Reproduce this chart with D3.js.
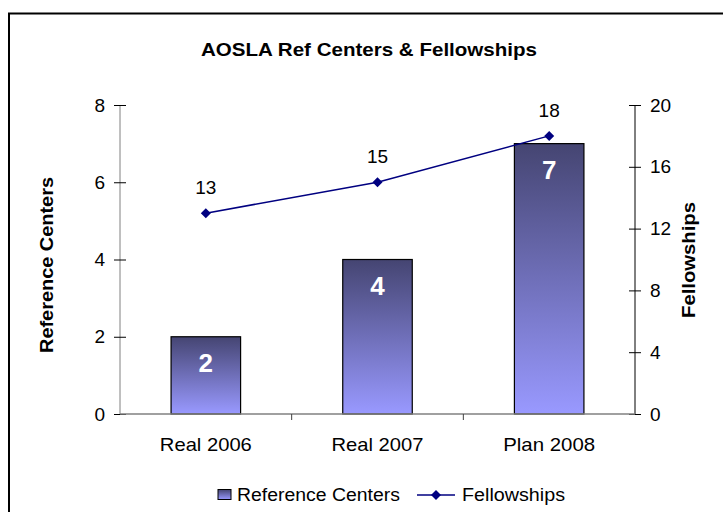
<!DOCTYPE html>
<html>
<head>
<meta charset="utf-8">
<script src="https://cdn.jsdelivr.net/npm/d3@7"></script>
<style>
  body { margin: 0; background: #fff; }
  text { font-family: "Liberation Sans", Arial, sans-serif; }
</style>
</head>
<body>
<div id="chart"></div>
<script>
const categories = ["Real 2006", "Real 2007", "Plan 2008"];
const referenceCenters = [2, 4, 7];
const fellowships = [13, 15, 18];
const leftTicks = [0, 2, 4, 6, 8];
const rightTicks = [0, 4, 8, 12, 16, 20];

const width = 723, height = 512;
const margin = { top: 105, right: 88, bottom: 98, left: 120 };
const w = width - margin.left - margin.right;
const h = height - margin.top - margin.bottom;
const font = "'Liberation Sans', Arial, sans-serif";

const svg = d3.select("#chart").append("svg")
  .attr("width", width)
  .attr("height", height);

// outer chart border (runs off the picture on right and bottom)
svg.append("rect")
  .attr("x", 9).attr("y", 13.5)
  .attr("width", 730).attr("height", 520)
  .attr("fill", "none")
  .attr("stroke", "#000")
  .attr("stroke-width", 2);

const defs = svg.append("defs");
const grad = defs.append("linearGradient")
  .attr("id", "barGrad")
  .attr("x1", 0).attr("y1", 0).attr("x2", 0).attr("y2", 1);
grad.append("stop").attr("offset", "0%").attr("stop-color", "#454572");
grad.append("stop").attr("offset", "100%").attr("stop-color", "#9999ff");

const g = svg.append("g")
  .attr("transform", `translate(${margin.left},${margin.top})`);

const x = d3.scaleBand().domain(categories).range([0, w]);
const yLeft = d3.scaleLinear().domain([0, 8]).range([h, 0]);
const yRight = d3.scaleLinear().domain([0, 20]).range([h, 0]);

// title
svg.append("text")
  .attr("x", 369).attr("y", 56)
  .attr("text-anchor", "middle")
  .attr("textLength", 336)
  .attr("lengthAdjust", "spacingAndGlyphs")
  .style("font-size", "18.5px")
  .style("font-weight", "bold")
  .text("AOSLA Ref Centers & Fellowships");

// bars
const barW = x.bandwidth() * 0.405;
g.selectAll("rect.bar")
  .data(referenceCenters)
  .join("rect")
  .attr("class", "bar")
  .attr("x", (d, i) => x(categories[i]) + (x.bandwidth() - barW) / 2)
  .attr("y", d => yLeft(d))
  .attr("width", barW)
  .attr("height", d => h - yLeft(d))
  .attr("fill", "url(#barGrad)")
  .attr("stroke", "#000")
  .attr("stroke-width", 1.2);

g.selectAll("text.barlabel")
  .data(referenceCenters)
  .join("text")
  .attr("class", "barlabel")
  .attr("x", (d, i) => x(categories[i]) + x.bandwidth() / 2)
  .attr("y", d => yLeft(d) + 35.5)
  .attr("text-anchor", "middle")
  .attr("fill", "#fff")
  .style("font-size", "26px")
  .style("font-weight", "bold")
  .text(d => d);

// left axis
const leftAxis = g.append("g")
  .call(d3.axisLeft(yLeft).tickValues(leftTicks).tickSize(6).tickPadding(9));
leftAxis.select(".domain").attr("stroke", "#808080").attr("d", `M0,0V${h}`);
leftAxis.selectAll(".tick line").attr("x1", -6).attr("x2", 6).attr("stroke", "#000");
leftAxis.selectAll(".tick text").style("font-size", "19px").attr("fill", "#000")
  .style("font-family", font);

// right axis
const rightAxis = g.append("g")
  .attr("transform", `translate(${w},0)`)
  .call(d3.axisRight(yRight).tickValues(rightTicks).tickSize(6).tickPadding(9));
rightAxis.select(".domain").attr("stroke", "#000").attr("d", `M0,0V${h}`);
rightAxis.selectAll(".tick line").attr("x1", -6).attr("x2", 6).attr("stroke", "#000");
rightAxis.selectAll(".tick text").style("font-size", "19px").attr("fill", "#000")
  .style("font-family", font);

// x axis
const xAxis = g.append("g")
  .attr("transform", `translate(0,${h})`)
  .call(d3.axisBottom(x).tickSize(0).tickPadding(23.5));
xAxis.select(".domain").attr("stroke", "#808080").attr("stroke-width", 1.5).attr("d", `M0,0H${w}`);
xAxis.selectAll(".tick text").style("font-size", "18.5px").attr("fill", "#000")
  .style("font-family", font)
  .attr("textLength", 92).attr("lengthAdjust", "spacingAndGlyphs");
xAxis.selectAll("line.sep")
  .data(categories.slice(1))
  .join("line")
  .attr("class", "sep")
  .attr("x1", d => x(d)).attr("x2", d => x(d))
  .attr("y1", 0).attr("y2", 6)
  .attr("stroke", "#404040");

// fellowships line
const line = d3.line()
  .x((d, i) => x(categories[i]) + x.bandwidth() / 2)
  .y(d => yRight(d));

g.append("path")
  .datum(fellowships)
  .attr("fill", "none")
  .attr("stroke", "#000080")
  .attr("stroke-width", 1.5)
  .attr("d", line);

const diamond = d3.symbol().type(d3.symbolSquare).size(50);
g.selectAll("path.marker")
  .data(fellowships)
  .join("path")
  .attr("class", "marker")
  .attr("transform", (d, i) => `translate(${x(categories[i]) + x.bandwidth() / 2},${yRight(d)}) rotate(45)`)
  .attr("d", diamond)
  .attr("fill", "#000080");

g.selectAll("text.linelabel")
  .data(fellowships)
  .join("text")
  .attr("class", "linelabel")
  .attr("x", (d, i) => x(categories[i]) + x.bandwidth() / 2)
  .attr("y", d => yRight(d) - 19)
  .attr("text-anchor", "middle")
  .style("font-size", "19px")
  .text(d => d);

// axis titles
svg.append("text")
  .attr("transform", `translate(53,265) rotate(-90)`)
  .attr("text-anchor", "middle")
  .attr("textLength", 176)
  .attr("lengthAdjust", "spacingAndGlyphs")
  .style("font-size", "18px")
  .style("font-weight", "bold")
  .text("Reference Centers");

svg.append("text")
  .attr("transform", `translate(695,260) rotate(-90)`)
  .attr("text-anchor", "middle")
  .attr("textLength", 116)
  .attr("lengthAdjust", "spacingAndGlyphs")
  .style("font-size", "18px")
  .style("font-weight", "bold")
  .text("Fellowships");

// legend
const legend = svg.append("g");
legend.append("rect")
  .attr("x", 218).attr("y", 489.5)
  .attr("width", 13).attr("height", 10)
  .attr("fill", "url(#barGrad)")
  .attr("stroke", "#000");
legend.append("text")
  .attr("x", 237).attr("y", 501)
  .attr("textLength", 163)
  .attr("lengthAdjust", "spacingAndGlyphs")
  .style("font-size", "17.5px")
  .text("Reference Centers");
legend.append("line")
  .attr("x1", 417).attr("x2", 455)
  .attr("y1", 495).attr("y2", 495)
  .attr("stroke", "#000080").attr("stroke-width", 1.5);
legend.append("path")
  .attr("transform", "translate(436,495) rotate(45)")
  .attr("d", diamond)
  .attr("fill", "#000080");
legend.append("text")
  .attr("x", 462).attr("y", 501)
  .attr("textLength", 103)
  .attr("lengthAdjust", "spacingAndGlyphs")
  .style("font-size", "17.5px")
  .text("Fellowships");
</script>
</body>
</html>
